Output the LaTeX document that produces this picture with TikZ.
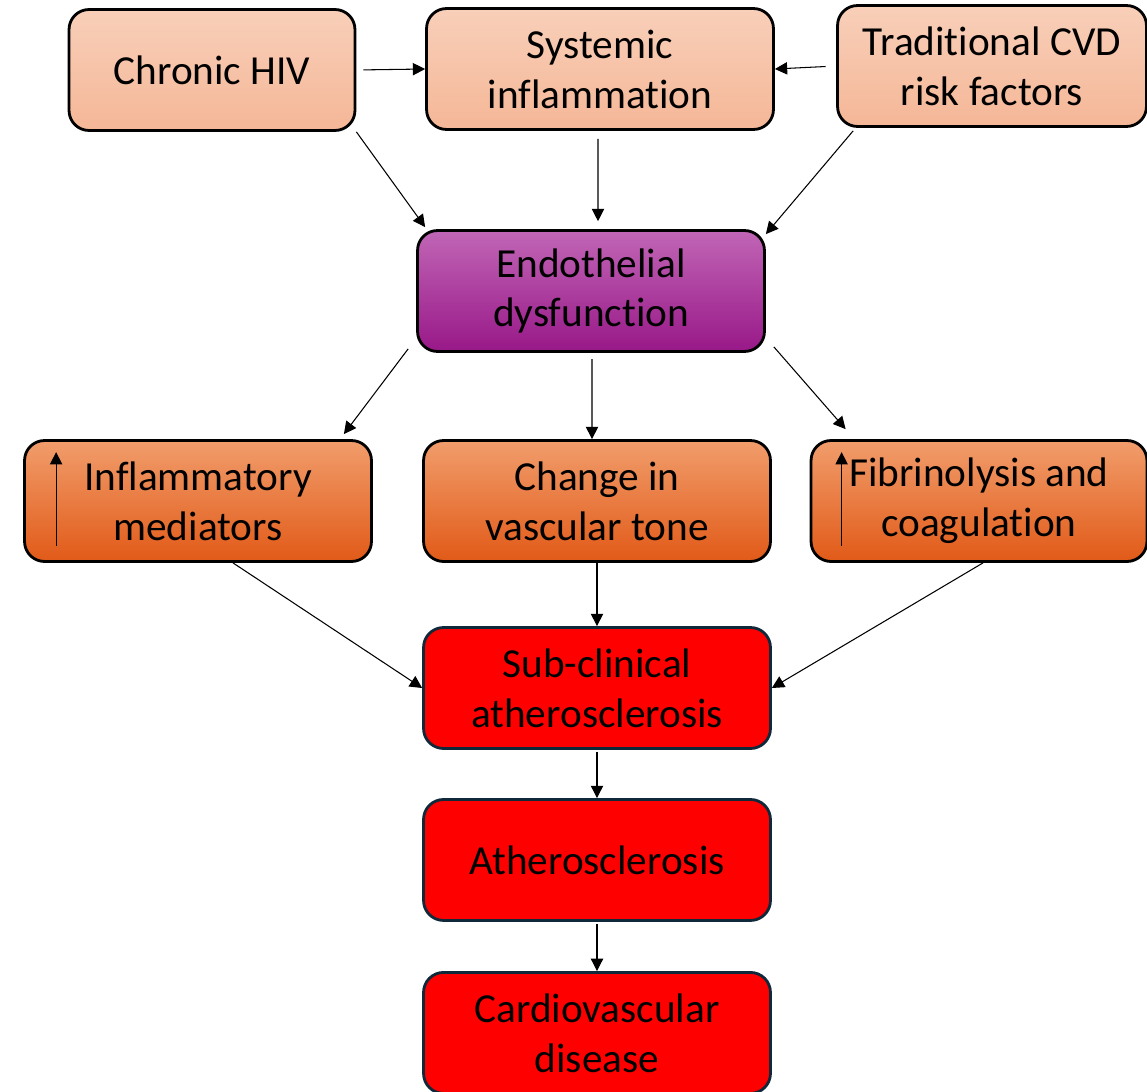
\documentclass[tikz,border=0pt]{standalone}
\usepackage{fontspec}
\setmainfont{Carlito}[Ligatures=NoCommon]
\usetikzlibrary{arrows.meta,positioning}

\definecolor{peachtop}{HTML}{F8CFB9}
\definecolor{peachbot}{HTML}{F5B797}
\definecolor{orangetop}{HTML}{F19D6C}
\definecolor{orangebot}{HTML}{E15A18}
\definecolor{purpletop}{HTML}{C166B6}
\definecolor{purplebot}{HTML}{981888}
\definecolor{redline}{HTML}{10293A}

\tikzset{
  box/.style={draw, line width=1.6pt, rounded corners=0.4cm, minimum width=6.94cm,
    minimum height=2.42cm, align=center, inner sep=2pt,
    font=\fontsize{23.5}{28.4}\selectfont},
  peach/.style={box, top color=peachtop, bottom color=peachbot},
  orangebox/.style={box, top color=orangetop, bottom color=orangebot},
  purplebox/.style={box, top color=purpletop, bottom color=purplebot},
  redbox/.style={box, draw=redline, fill=red},
  arr/.style={-{Triangle[length=7pt,width=7pt]}, line width=0.6pt}
}

\begin{document}
\begin{tikzpicture}[x=0.02cm, y=-0.02cm, node distance=3.44cm, on grid]
   \useasboundingbox (0,0) rectangle (1147,1092);

   % top row
   \node[peach, minimum width=5.72cm] (hiv) at (212,70) {Chronic HIV};
   \node[peach] (sys) at (600,69) {Systemic\\inflammation};
   \node[peach, minimum width=6.18cm] (trad) at (992,66) {Traditional CVD\\risk factors};

   \node[purplebox] (endo) at (591,291) {Endothelial\\dysfunction};

   % middle row
   \node[orangebox] (infl) at (198,501) {Inflammatory\\mediators};
   \node[orangebox] (tone) at (597,501) {Change in\\vascular tone};
   \node[orangebox, minimum width=6.72cm] (fibr) at (979,501) {Fibrinolysis and\\coagulation};

   % outcome column
   \node[redbox] (sub) at (597,688) {Sub-clinical\\atherosclerosis};
   \node[redbox] (ath) [below=of sub] {Atherosclerosis};
   \node[redbox] (cvd) [below=3.46cm of ath] {Cardiovascular\\disease};

   \path[arr]
   (hiv.east) edge [shorten <=4pt] (sys.west)
   (trad.west) edge [shorten <=6pt] (sys.east)
   ([xshift=-0.04cm]sys.south) edge [shorten <=4.5pt, shorten >=4.5pt] ([xshift=0.14cm]endo.north)
   (hiv.south east) edge ([xshift=0.18cm,yshift=0.04cm]endo.north west)
   ([xshift=0.34cm,yshift=-0.06cm]trad.south west) edge ([yshift=-0.1cm]endo.north east)
   ([xshift=-0.16cm,yshift=0.08cm]endo.south west) edge ([xshift=-0.58cm,yshift=0.1cm]infl.north east)
   ([xshift=0.02cm]endo.south) edge [shorten <=3.5pt] ([xshift=-0.1cm]tone.north)
   ([xshift=0.16cm,yshift=0.12cm]endo.south east) edge ([xshift=0.72cm,yshift=0.2cm]fibr.north west)
   ([xshift=0.7cm]infl.south) edge (sub.west)
   (tone.south) edge (sub.north)
   ([xshift=0.08cm]fibr.south) edge (sub.east)
   (sub.south) edge [shorten <=1pt] (ath.north)
   (ath.south) edge [shorten <=1pt] (cvd.north);

   % up arrows inside the boxes
   \draw[arr] ([xshift=0.66cm,yshift=0.34cm]infl.south west) -- ([xshift=0.66cm,yshift=-0.26cm]infl.north west);
   \draw[arr] ([xshift=0.64cm,yshift=0.34cm]fibr.south west) -- ([xshift=0.64cm,yshift=-0.26cm]fibr.north west);
\end{tikzpicture}
\end{document}
